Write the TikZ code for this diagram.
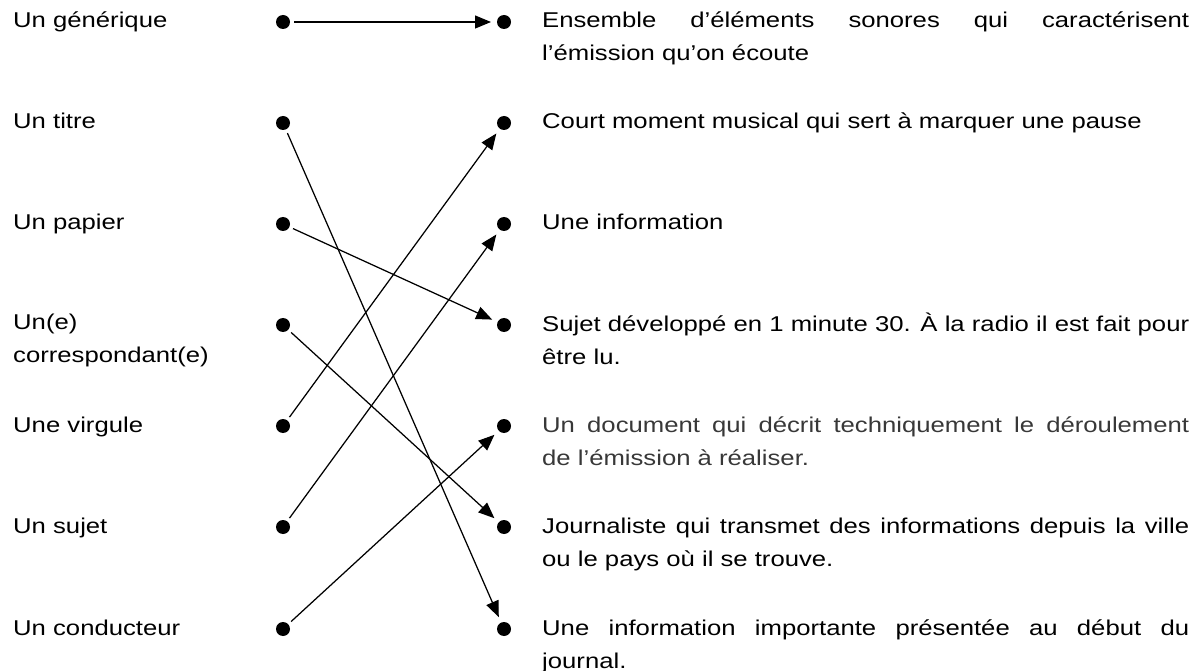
\documentclass[tikz,border=0pt]{standalone}
\usepackage{fontspec}
\setmainfont{Liberation Sans}[FakeStretch=1.2]
\usetikzlibrary{arrows.meta}
\newcommand{\twol}[2]{\vtop{\baselineskip=33pt\hbox{#1}\hbox{#2}}}
\newcommand{\jline}[1]{\makebox[647pt][s]{#1}}
\begin{document}
\begin{tikzpicture}[x=1pt,y=-1pt,
  lbl/.style={anchor=base west,inner sep=0pt,font=\fontsize{21.4}{33}\selectfont},
  dot/.style={circle,fill=black,inner sep=0pt,minimum size=14pt,outer sep=0pt},
  link/.style={line width=1.25pt,shorten <=4pt,shorten >=6pt,-{Triangle[length=16pt,width=13pt]}}]
\useasboundingbox (0,0) rectangle (1203,671);
% left labels
\node[lbl] (t1) at (13,28) {Un générique};
\node[lbl] (t2) at (13,129) {Un titre};
\node[lbl] (t3) at (13,230) {Un papier};
\node[lbl] (t4) at (13,330) {\twol{Un(e)}{correspondant(e)}};
\node[lbl] (t5) at (13,432) {Une virgule};
\node[lbl] (t6) at (13,533) {Un sujet};
\node[lbl] (t7) at (13,635) {Un conducteur};
% left bullets
\node[dot] (L1) at (283,22) {};
\node[dot] (L2) at (283,123) {};
\node[dot] (L3) at (283,224) {};
\node[dot] (L4) at (283,325) {};
\node[dot] (L5) at (283,426) {};
\node[dot] (L6) at (283,527) {};
\node[dot] (L7) at (283,629) {};
% right bullets
\node[dot] (R1) at (504,22) {};
\node[dot] (R2) at (504,123) {};
\node[dot] (R3) at (504,224) {};
\node[dot] (R4) at (504,325) {};
\node[dot] (R5) at (504,426) {};
\node[dot] (R6) at (504,527) {};
\node[dot] (R7) at (504,629) {};
% right labels
\node[lbl] (d1) at (542,28) {\twol{\jline{Ensemble d’éléments sonores qui caractérisent}}{l’émission qu’on écoute}};
\node[lbl] (d2) at (542,129) {Court moment musical qui sert à marquer une pause};
\node[lbl] (d3) at (542,230) {Une information};
\node[lbl] (d4) at (542,331) {\twol{\jline{Sujet développé en 1 minute 30. À la radio il est fait pour}}{être lu.}};
\node[lbl,text=black!78] (d5) at (542,432) {\twol{\jline{Un document qui décrit techniquement le déroulement}}{de l'émission à réaliser.}};
\node[lbl] (d6) at (542,533) {\twol{\jline{Journaliste qui transmet des informations depuis la ville}}{ou le pays où il se trouve.}};
\node[lbl] (d7) at (542,635) {\twol{\jline{Une information importante présentée au début du}}{journal.}};
% links
\draw[link] (L1) -- (R1);
\draw[link] (L2) -- (R7);
\draw[link] (L3) -- (R4);
\draw[link] (L4) -- (R6);
\draw[link] (L5) -- (R2);
\draw[link] (L6) -- (R3);
\draw[link] (L7) -- (R5);
\end{tikzpicture}
\end{document}
